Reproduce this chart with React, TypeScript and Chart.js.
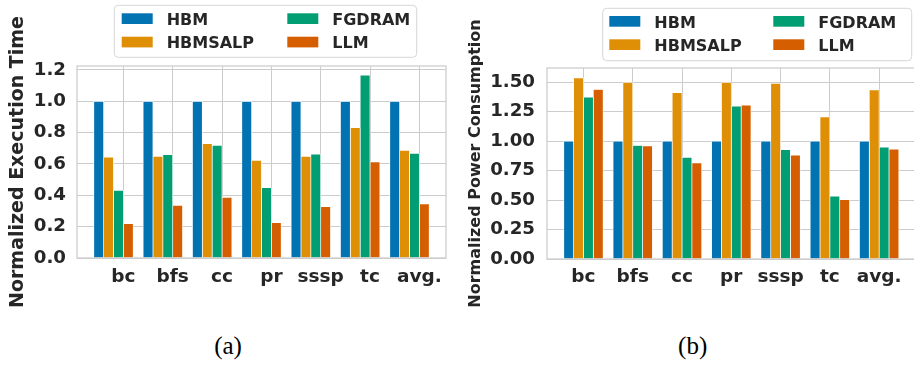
import React, { useEffect, useRef } from "react";
import { Chart, registerables } from "chart.js";

Chart.register(...registerables);

// ---------- data ----------
const categories = ["bc", "bfs", "cc", "pr", "sssp", "tc", "avg."];
const seriesNames = ["HBM", "HBMSALP", "FGDRAM", "LLM"];
const seriesColors = ["#0173B2", "#DE8F05", "#029E73", "#D55E00"];

const execHBM = [1.0, 1.0, 1.0, 1.0, 1.0, 1.0, 1.0];
const execHBMSALP = [0.643, 0.649, 0.73, 0.623, 0.649, 0.832, 0.687];
const execFGDRAM = [0.432, 0.66, 0.719, 0.449, 0.662, 1.166, 0.668];
const execLLM = [0.219, 0.336, 0.387, 0.226, 0.328, 0.613, 0.345];

const powerHBM = [1.0, 1.0, 1.0, 1.0, 1.0, 1.0, 1.0];
const powerHBMSALP = [1.537, 1.497, 1.412, 1.497, 1.489, 1.206, 1.435];
const powerFGDRAM = [1.373, 0.963, 0.862, 1.297, 0.927, 0.534, 0.949];
const powerLLM = [1.438, 0.96, 0.816, 1.305, 0.881, 0.503, 0.932];

const execTicks = [0, 0.2, 0.4, 0.6, 0.8, 1.0, 1.2];
const powerTicks = [0, 0.25, 0.5, 0.75, 1.0, 1.25, 1.5];

// ---------- styling ----------
const FONT = "'DejaVu Sans', sans-serif";
const TEXT = "#262626";
const GRID = "#cccccc";

const legendPlugin = {
  id: "gridLegend",
  afterDraw(chart: any, _args: any, o: any) {
    if (!o || !o.box) return;
    const ctx = chart.ctx;
    ctx.save();
    const [bx, by, bw, bh] = o.box;
    const r = 4;
    ctx.beginPath();
    ctx.moveTo(bx + r, by);
    ctx.lineTo(bx + bw - r, by);
    ctx.arcTo(bx + bw, by, bx + bw, by + r, r);
    ctx.lineTo(bx + bw, by + bh - r);
    ctx.arcTo(bx + bw, by + bh, bx + bw - r, by + bh, r);
    ctx.lineTo(bx + r, by + bh);
    ctx.arcTo(bx, by + bh, bx, by + bh - r, r);
    ctx.lineTo(bx, by + r);
    ctx.arcTo(bx, by, bx + r, by, r);
    ctx.closePath();
    ctx.fillStyle = "rgba(255,255,255,0.85)";
    ctx.fill();
    ctx.strokeStyle = "#d6d6d6";
    ctx.lineWidth = 1;
    ctx.stroke();
    ctx.font = `bold ${o.fontSize}px ${FONT}`;
    ctx.textBaseline = "alphabetic";
    ctx.textAlign = "left";
    chart.data.datasets.forEach((ds: any, i: number) => {
      const col = Math.floor(i / 2);
      const row = i % 2;
      ctx.fillStyle = ds.backgroundColor;
      ctx.fillRect(o.colX[col], o.swatchTop[row], o.swatchW, o.swatchH);
      ctx.fillStyle = TEXT;
      ctx.fillText(ds.label, o.textX[col], o.baseline[row]);
    });
    ctx.restore();
  },
};

const framePlugin = {
  id: "frame",
  afterDatasetsDraw(chart: any) {
    const { ctx, chartArea: a } = chart;
    ctx.save();
    ctx.strokeStyle = GRID;
    ctx.lineWidth = 1.25;
    ctx.strokeRect(a.left, a.top, a.right - a.left, a.bottom - a.top);
    ctx.restore();
  },
};

type PanelCfg = {
  canvasX: number;
  canvasW: number;
  canvasH: number;
  plotLeft: number;
  plotTop: number;
  plotRight: number;
  plotBottom: number;
  series: number[][];
  offsets: number[];
  xMin: number;
  xMax: number;
  yMax: number;
  yTicks: number[];
  yDecimals: number;
  yTitle: string;
  yTitleSize: number;
  yTitlePad: number;
  yTickPad: number;
  xTickPad: number;
  legend: any;
};

function buildConfig(cfg: PanelCfg): any {
  const datasets = cfg.series.map((vals, s) => ({
    type: "bar",
    label: seriesNames[s],
    data: categories.map((_, i) => ({ x: i + cfg.offsets[s], y: vals[i] })),
    backgroundColor: seriesColors[s],
    borderColor: "#ffffff",
    borderWidth: 0.7,
    grouped: false,
    barPercentage: 1,
    categoryPercentage: 1,
  }));
  return {
    type: "bar",
    data: { datasets },
    plugins: [legendPlugin, framePlugin],
    options: {
      responsive: false,
      animation: false,
      events: [],
      layout: {
        padding: {
          left: 0,
          top: cfg.plotTop,
          right: cfg.canvasW - cfg.plotRight,
          bottom: 0,
        },
      },
      plugins: {
        legend: { display: false },
        tooltip: { enabled: false },
        gridLegend: cfg.legend,
      },
      scales: {
        x: {
          type: "linear",
          bounds: "data",
          offset: false,
          min: cfg.xMin,
          max: cfg.xMax,
          afterBuildTicks: (axis: any) => {
            axis.ticks = categories.map((_, i) => ({ value: i }));
          },
          afterFit: (axis: any) => {
            axis.height = cfg.canvasH - cfg.plotBottom;
          },
          ticks: {
            autoSkip: false,
            maxRotation: 0,
            minRotation: 0,
            padding: cfg.xTickPad,
            color: TEXT,
            font: { family: FONT, size: 18.5, weight: "bold" },
            callback: (v: any) => categories[Math.round(Number(v))] ?? "",
          },
          grid: { color: GRID, lineWidth: 1, drawTicks: false, offset: false },
          border: { display: false },
        },
        y: {
          type: "linear",
          bounds: "data",
          min: 0,
          max: cfg.yMax,
          afterBuildTicks: (axis: any) => {
            axis.ticks = cfg.yTicks.map((v) => ({ value: v }));
          },
          afterFit: (axis: any) => {
            axis.width = cfg.plotLeft;
          },
          ticks: {
            padding: cfg.yTickPad,
            color: TEXT,
            font: { family: FONT, size: 18.2, weight: "bold" },
            callback: (v: any) => Number(v).toFixed(cfg.yDecimals),
          },
          grid: { color: GRID, lineWidth: 1, drawTicks: false },
          border: { display: false },
          title: {
            display: true,
            text: cfg.yTitle,
            color: TEXT,
            font: { family: FONT, size: cfg.yTitleSize, weight: "bold", lineHeight: 1.2 },
            padding: { top: cfg.yTitlePad, bottom: 0 },
          },
        },
      },
    },
  };
}

const execCfg: PanelCfg = {
  canvasX: 0,
  canvasW: 460,
  canvasH: 320,
  plotLeft: 77,
  plotTop: 66,
  plotRight: 446,
  plotBottom: 258,
  series: [execHBM, execHBMSALP, execFGDRAM, execLLM],
  offsets: [-0.5, -0.3, -0.1, 0.1],
  xMin: -0.94,
  xMax: 6.54,
  yMax: 1.225,
  yTicks: execTicks,
  yDecimals: 1,
  yTitle: "Normalized Execution Time",
  yTitleSize: 19,
  yTitlePad: 7,
  yTickPad: 11,
  xTickPad: 8,
  legend: {
    box: [114.3, 5.3, 302.4, 52],
    colX: [121.7, 287.3],
    textX: [166.7, 332.3],
    swatchTop: [13.3, 36.7],
    swatchW: 31,
    swatchH: 10.7,
    baseline: [24.7, 48.3],
    fontSize: 16,
  },
};

const powerCfg: PanelCfg = {
  canvasX: 455,
  canvasW: 463,
  canvasH: 320,
  plotLeft: 92,
  plotTop: 68,
  plotRight: 460.6,
  plotBottom: 259,
  series: [powerHBM, powerHBMSALP, powerFGDRAM, powerLLM],
  offsets: [-0.3, -0.1, 0.1, 0.3],
  xMin: -0.74,
  xMax: 6.74,
  yMax: 1.62,
  yTicks: powerTicks,
  yDecimals: 2,
  yTitle: "Normalized Power Consumption",
  yTitleSize: 16,
  yTitlePad: 11.6,
  yTickPad: 12,
  xTickPad: 7,
  legend: {
    box: [147.7, 8.3, 309, 52.4],
    colX: [154.3, 318.3],
    textX: [199.3, 363.3],
    swatchTop: [16, 39.3],
    swatchW: 31,
    swatchH: 10.7,
    baseline: [27.7, 51.3],
    fontSize: 16,
  },
};

function Panel({ cfg }: { cfg: PanelCfg }) {
  const ref = useRef<HTMLCanvasElement | null>(null);
  useEffect(() => {
    if (!ref.current) return;
    const chart = new Chart(ref.current, buildConfig(cfg));
    return () => chart.destroy();
  }, [cfg]);
  return (
    <canvas
      ref={ref}
      width={cfg.canvasW}
      height={cfg.canvasH}
      style={{
        position: "absolute",
        left: cfg.canvasX,
        top: 0,
        width: cfg.canvasW,
        height: cfg.canvasH,
      }}
    />
  );
}

const captionStyle = (cx: number): React.CSSProperties => ({
  position: "absolute",
  left: cx - 50,
  width: 100,
  top: 332.7,
  textAlign: "center",
  fontFamily: "'Liberation Serif', serif",
  fontSize: 25,
  lineHeight: "25px",
  color: "#000",
});

export default function App() {
  return (
    <div
      style={{
        position: "fixed",
        left: 0,
        top: 0,
        width: 914,
        height: 365,
        overflow: "hidden",
        background: "#ffffff",
      }}
    >
      <Panel cfg={execCfg} />
      <Panel cfg={powerCfg} />
      <div style={captionStyle(228)}>(a)</div>
      <div style={captionStyle(692.7)}>(b)</div>
    </div>
  );
}
